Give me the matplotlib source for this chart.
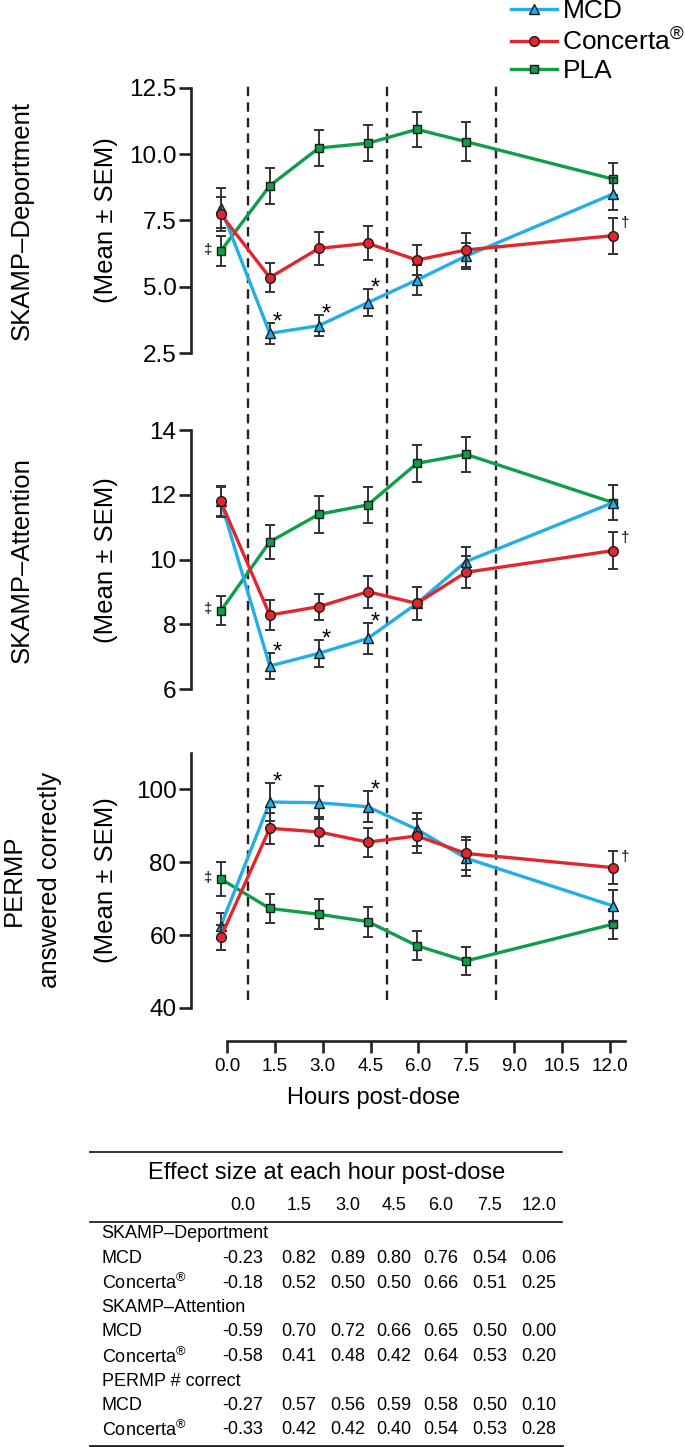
import matplotlib
matplotlib.use('Agg')
import matplotlib.pyplot as plt
from matplotlib.lines import Line2D

plt.rcParams['font.family'] = ['Liberation Sans', 'DejaVu Sans']
plt.rcParams['mathtext.fontset'] = 'custom'
plt.rcParams['mathtext.rm'] = 'Liberation Sans'

hours = [0.0, 1.5, 3.0, 4.5, 6.0, 7.5, 12.0]
axis_hours = [0.0, 1.5, 3.0, 4.5, 6.0, 7.5, 9.0, 10.5, 12.0]
dose_marks = [0.83, 5.1, 8.42]

# SKAMP-Deportment, mean and SEM
dep_mcd = [7.98, 3.25, 3.54, 4.41, 5.26, 6.16, 8.50]
dep_mcd_sem = [0.75, 0.39, 0.40, 0.50, 0.56, 0.50, 0.60]
dep_con = [7.74, 5.35, 6.45, 6.64, 6.01, 6.39, 6.93]
dep_con_sem = [0.63, 0.55, 0.62, 0.64, 0.58, 0.64, 0.68]
dep_pla = [6.35, 8.81, 10.23, 10.41, 10.93, 10.47, 9.06]
dep_pla_sem = [0.55, 0.67, 0.69, 0.68, 0.67, 0.72, 0.61]

# SKAMP-Attention
att_mcd = [11.80, 6.72, 7.11, 7.57, 8.65, 9.94, 11.76]
att_mcd_sem = [0.45, 0.40, 0.41, 0.49, 0.50, 0.45, 0.55]
att_con = [11.80, 8.29, 8.55, 9.01, 8.65, 9.61, 10.28]
att_con_sem = [0.47, 0.46, 0.40, 0.50, 0.50, 0.50, 0.57]
att_pla = [8.42, 10.55, 11.40, 11.69, 12.97, 13.25, 11.76]
att_pla_sem = [0.45, 0.52, 0.57, 0.55, 0.57, 0.54, 0.55]

# PERMP answered correctly
perm_mcd = [62.5, 96.5, 96.3, 95.2, 89.0, 81.1, 68.0]
perm_mcd_sem = [3.5, 5.3, 4.5, 4.2, 4.5, 5.0, 4.3]
perm_con = [59.4, 89.3, 88.3, 85.5, 87.2, 82.4, 78.5]
perm_con_sem = [3.4, 4.3, 4.0, 4.0, 4.6, 4.6, 4.5]
perm_pla = [75.4, 67.3, 65.7, 63.7, 57.1, 52.9, 63.0]
perm_pla_sem = [4.7, 4.0, 4.1, 4.1, 3.9, 3.9, 4.2]

# effect size table
table_hours = ['0.0', '1.5', '3.0', '4.5', '6.0', '7.5', '12.0']
es_dep_mcd = [-0.23, 0.82, 0.89, 0.80, 0.76, 0.54, 0.06]
es_dep_con = [-0.18, 0.52, 0.50, 0.50, 0.66, 0.51, 0.25]
es_att_mcd = [-0.59, 0.70, 0.72, 0.66, 0.65, 0.50, 0.00]
es_att_con = [-0.58, 0.41, 0.48, 0.42, 0.64, 0.53, 0.20]
es_perm_mcd = [-0.27, 0.57, 0.56, 0.59, 0.58, 0.50, 0.10]
es_perm_con = [-0.33, 0.42, 0.42, 0.40, 0.54, 0.53, 0.28]

MCD_C = '#22AEE6'
CON_C = '#E3262E'
PLA_C = '#0F9D4A'
EDGE = '#1A1A1A'
ERR = '#333333'
INK = '#222222'
CONCERTA = 'Concerta$^{\\mathregular{®}}$'

W, H = 685, 1447


def fx(x):
    return x / W


def fy(y):
    return 1 - y / H


def box(left, top, right, bottom):
    return [left / W, 1 - bottom / H, (right - left) / W, (bottom - top) / H]


fig = plt.figure(figsize=(W / 100, H / 100), dpi=100)

XL, XR = 191, 650
XLIM = (-0.91, 13.13)

# dashed lines spanning all three panels
ov = fig.add_axes(box(XL, 85, XR, 1000))
ov.set_xlim(*XLIM)
ov.set_ylim(0, 1)
ov.axis('off')
for d in dose_marks:
    ov.axvline(d, color=INK, lw=1.7, ls=(0, (4, 2.6)))


def draw_series(ax, y, e, color, marker, ms, z):
    ax.errorbar(hours, y, yerr=e, fmt='none', ecolor=ERR, elinewidth=1.4,
                capsize=3.8, capthick=1.4, zorder=z)
    line, = ax.plot(hours, y, color=color, lw=2.4, marker=marker, ms=ms,
                    mfc=color, mec=EDGE, mew=1.0, zorder=z + 0.5)
    return line


panels = [
    dict(top=87.7, bottom=353.3, ylim=(2.5, 12.5), ticks=[2.5, 5.0, 7.5, 10.0, 12.5], fmt='%.1f',
         mcd=(dep_mcd, dep_mcd_sem), con=(dep_con, dep_con_sem), pla=(dep_pla, dep_pla_sem),
         stars=[1, 2, 3], labels=['SKAMP–Deportment', '(Mean ± SEM)']),
    dict(top=430, bottom=689.3, ylim=(6, 14), ticks=[6, 8, 10, 12, 14], fmt='%d',
         mcd=(att_mcd, att_mcd_sem), con=(att_con, att_con_sem), pla=(att_pla, att_pla_sem),
         stars=[1, 2, 3], labels=['SKAMP–Attention', '(Mean ± SEM)']),
    dict(top=752.8, bottom=1008, ylim=(40, 110), ticks=[40, 60, 80, 100], fmt='%d',
         mcd=(perm_mcd, perm_mcd_sem), con=(perm_con, perm_con_sem), pla=(perm_pla, perm_pla_sem),
         stars=[1, 3], labels=['PERMP', 'answered correctly', '(Mean ± SEM)']),
]

handles = None
for p in panels:
    ax = fig.add_axes(box(XL, p['top'], XR, p['bottom']))
    ax.set_facecolor('none')
    ax.set_xlim(*XLIM)
    ax.set_ylim(*p['ylim'])
    for s in ['top', 'right', 'bottom']:
        ax.spines[s].set_visible(False)
    ax.spines['left'].set_linewidth(1.9)
    ax.spines['left'].set_color(INK)
    ax.set_xticks([])
    ax.set_yticks(p['ticks'])
    ax.set_yticklabels([p['fmt'] % t for t in p['ticks']])
    ax.tick_params(axis='y', length=8.5, width=1.9, color=INK, labelsize=17.5, pad=2)

    l_pla = draw_series(ax, *p['pla'], PLA_C, 's', 6.2, 3)
    l_mcd = draw_series(ax, *p['mcd'], MCD_C, '^', 7.5, 4)
    l_con = draw_series(ax, *p['con'], CON_C, 'o', 7.0, 5)
    if handles is None:
        handles = [l_mcd, l_con, l_pla]

    my, me = p['mcd']
    for i in p['stars']:
        ax.annotate('*', xy=(hours[i], my[i] + me[i]), xytext=(5, -4),
                    textcoords='offset points', ha='center', va='baseline', fontsize=17)
    py_, pe = p['pla']
    ax.annotate('‡', xy=(hours[0], py_[0]), xytext=(-9, 1), textcoords='offset points',
                ha='center', va='center', fontsize=11)
    cy, ce = p['con']
    ax.annotate('†', xy=(hours[-1], cy[-1] + ce[-1]), xytext=(9, -4), textcoords='offset points',
                ha='center', va='center', fontsize=11)

    mid = (p['top'] + p['bottom']) / 2
    labs = p['labels']
    xs = [22, 106] if len(labs) == 2 else [14, 50, 106]
    for lab, x in zip(labs, xs):
        fig.text(fx(x), fy(mid), lab, rotation=90, ha='center', va='center', fontsize=18.5)

# separate x axis under the panels
axx = fig.add_axes(box(227, 1039.7, 625, 1040.7))
axx.set_facecolor('none')
axx.set_xlim(0, 12.47)
axx.set_ylim(0, 1)
for s in ['top', 'right', 'left']:
    axx.spines[s].set_visible(False)
axx.spines['bottom'].set_linewidth(1.9)
axx.spines['bottom'].set_color(INK)
axx.set_yticks([])
axx.set_xticks(axis_hours)
axx.set_xticklabels(['%.1f' % h for h in axis_hours])
axx.tick_params(axis='x', length=8.5, width=1.9, color=INK, labelsize=13.5, pad=4)
fig.text(fx(374), fy(1098), 'Hours post-dose', ha='center', va='center', fontsize=17)

# legend
fig.legend(handles, ['MCD', CONCERTA, 'PLA'], loc='upper left',
           bbox_to_anchor=(fx(511), fy(-1)), frameon=False, borderpad=0, borderaxespad=0,
           handlelength=1.75, handletextpad=0.2, labelspacing=0.15, fontsize=19, numpoints=1)

# effect size table
for y, lw in [(1152.3, 1.3), (1221.7, 1.3), (1445.7, 2.0)]:
    fig.add_artist(Line2D([fx(90), fx(562)], [fy(y), fy(y)], lw=lw, color=INK))

col_x = [243, 299, 348, 394, 441, 490, 539]
fig.text(fx(327), fy(1173), 'Effect size at each hour post-dose', ha='center', va='center', fontsize=17)
for h, x in zip(table_hours, col_x):
    fig.text(fx(x), fy(1205), h, ha='center', va='center', fontsize=13)

rows = [
    ('SKAMP–Deportment', None),
    ('MCD', es_dep_mcd),
    (CONCERTA, es_dep_con),
    ('SKAMP–Attention', None),
    ('MCD', es_att_mcd),
    (CONCERTA, es_att_con),
    ('PERMP # correct', None),
    ('MCD', es_perm_mcd),
    (CONCERTA, es_perm_con),
]
for k, (lab, vals) in enumerate(rows):
    y = 1234 + k * 24.5
    fig.text(fx(101.7), fy(y), lab, ha='left', va='center', fontsize=13)
    if vals is not None:
        for v, x in zip(vals, col_x):
            fig.text(fx(x), fy(y), '%.2f' % v, ha='center', va='center', fontsize=13)

fig.savefig('out.png', dpi=100)
